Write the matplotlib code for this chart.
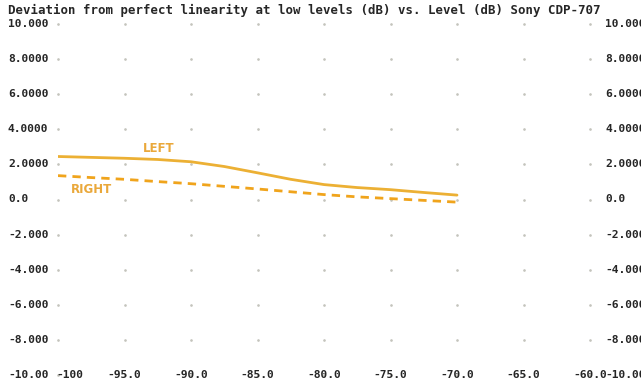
import numpy as np
import matplotlib.pyplot as plt

# Level (dB) and deviation from linearity (dB) for each channel
level = [-100, -97.5, -95, -92.5, -90, -87.5, -85, -82.5, -80, -77.5, -75, -72.5, -70]
left_dev = [2.45, 2.40, 2.35, 2.28, 2.15, 1.88, 1.52, 1.15, 0.85, 0.68, 0.56, 0.40, 0.25]
right_dev = [1.36, 1.25, 1.15, 1.02, 0.90, 0.75, 0.60, 0.44, 0.28, 0.15, 0.05, -0.05, -0.15]

x_ticks = [-100, -95, -90, -85, -80, -75, -70, -65, -60]
x_labels = ['-100', '-95.0', '-90.0', '-85.0', '-80.0', '-75.0', '-70.0', '-65.0', '-60.0']
y_ticks = [10, 8, 6, 4, 2, 0, -2, -4, -6, -8, -10]
y_labels = ['10.000', '8.0000', '6.0000', '4.0000', '2.0000', '0.0',
            '-2.000', '-4.000', '-6.000', '-8.000', '-10.00']

title = 'Deviation from perfect linearity at low levels (dB) vs. Level (dB) Sony CDP-707'

W, H = 641, 388
fig = plt.figure(figsize=(W / 100, H / 100), dpi=100, facecolor='white')
ax = fig.add_axes([58 / W, 1 - 375 / H, (590 - 58) / W, (375 - 24) / H])
ax.set_xlim(-100, -60)
ax.set_ylim(-10, 10)
ax.axis('off')

font = dict(family='DejaVu Sans Mono', fontweight='bold', color='#262626')

# dotted grid at tick intersections
gx, gy = np.meshgrid(x_ticks, y_ticks)
ax.scatter(gx.ravel(), gy.ravel(), s=0.8, color='#c4c4bc', zorder=1, clip_on=False)

ax.plot(level, left_dev, color='#ecb034', lw=2.0, solid_capstyle='round', zorder=3)
ax.plot(level, right_dev, color='#f0a41c', lw=2.0, dashes=(3, 2.2), zorder=3)

ax.text(-93.6, 2.9, 'LEFT', color='#eaa83a', fontsize=8.5, family='DejaVu Sans',
        fontweight='bold', va='center', ha='left')
ax.text(-99.0, 0.55, 'RIGHT', color='#eaa83a', fontsize=8.5, family='DejaVu Sans',
        fontweight='bold', va='center', ha='left')

# tick labels on both sides and along the bottom row
for y, lab in zip(y_ticks, y_labels):
    yf = ax.transData.transform((0, y))[1]
    fig.text(8 / W, yf / H, lab, fontsize=8.1, va='center', ha='left', **font)
    fig.text(605 / W, yf / H, lab, fontsize=8.1, va='center', ha='left', **font)

for x, lab in zip(x_ticks, x_labels):
    ax.text(x + (0.9 if x == -100 else 0), -10, lab, fontsize=8.1,
            va='center', ha='center', clip_on=False, **font)

fig.text(8 / W, 1 - 10 / H, title, fontsize=8.9, va='center', ha='left', **font)

fig.savefig('out.png', dpi=100, facecolor='white')
